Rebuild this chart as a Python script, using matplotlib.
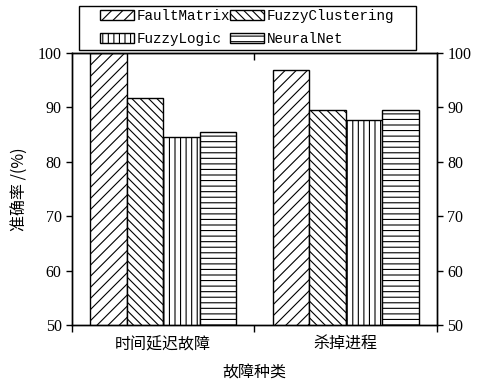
import numpy as np
import matplotlib.pyplot as plt
from matplotlib.patches import Rectangle

plt.rcParams['hatch.linewidth'] = 0.8

categories = ['时间延迟故障', '杀掉进程']
methods = ['FaultMatrix', 'FuzzyClustering', 'FuzzyLogic', 'NeuralNet']
accuracy = {
    'FaultMatrix': [100.0, 96.8],
    'FuzzyClustering': [91.7, 89.5],
    'FuzzyLogic': [84.6, 87.6],
    'NeuralNet': [85.4, 89.5],
}
hatches = ['///', '\\\\\\\\', '|||', '---']
yticks = [50, 60, 70, 80, 90, 100]

cjk = ['Noto Sans CJK SC', 'DejaVu Sans']
serif = ['Liberation Serif', 'DejaVu Serif']

W, H = 480, 387
fig = plt.figure(figsize=(W / 100, H / 100), dpi=100)
ax = fig.add_axes([0.15, 0.16, 0.76, 0.703])

x = np.arange(1, len(categories) + 1)
width = 0.2
bars = []
for i, (name, h) in enumerate(zip(methods, hatches)):
    b = ax.bar(x + (i - 1.5) * width, accuracy[name], width, bottom=0,
               facecolor='white', edgecolor='black', linewidth=1.0,
               hatch=h, label=name)
    bars.append(b)

ax.set_xlim(0.5, 2.5)
ax.set_ylim(50, 100)
ax.set_yticks(yticks)
ax.set_yticklabels([str(v) for v in yticks], family=serif, fontsize=11.5)

# group separators on the bottom, category names between them
ax.set_xticks([0.5, 1.5, 2.5])
ax.set_xticklabels([])
ax.set_xticks(x, minor=True)
ax.set_xticklabels(categories, minor=True, family=cjk, fontsize=11.5)
ax.tick_params(axis='x', which='minor', length=0, pad=8)
ax.tick_params(axis='x', which='major', direction='out', length=5, width=1)
ax.tick_params(axis='y', direction='out', length=4, width=1)

top = ax.secondary_xaxis('top')
top.set_xticks([1.5])
top.set_xticklabels([])
top.tick_params(direction='in', length=5, width=1)

right = ax.twinx()
right.set_ylim(50, 100)
right.set_yticks(yticks)
right.set_yticklabels([str(v) for v in yticks], family=serif, fontsize=11.5)
right.tick_params(axis='y', direction='out', length=4, width=1)

for a in (ax, right):
    for s in a.spines.values():
        s.set_linewidth(1.0)

ax.set_xlabel('故障种类', family=cjk, fontsize=11.5, labelpad=8)
ax.set_ylabel('准确率 /(%)', family=cjk, fontsize=11.5, labelpad=6)

# legend filled row by row, inside a hand-drawn box above the axes
order = [0, 2, 1, 3]
leg = fig.legend([bars[k] for k in order], [methods[k] for k in order],
                 loc='upper left', bbox_to_anchor=(93 / W, 1 - 2 / H),
                 bbox_transform=fig.transFigure,
                 ncol=2, frameon=False,
                 prop={'family': 'Liberation Mono', 'size': 10.3},
                 handlelength=2.4, handleheight=0.75, handletextpad=0.15,
                 columnspacing=0.0, borderpad=0.0, labelspacing=0.6)
fig.add_artist(Rectangle((79 / W, 1 - 50 / H), 337 / W, 44 / H,
                         transform=fig.transFigure, fill=False,
                         edgecolor='black', linewidth=1.0))

fig.savefig('out.png', dpi=100)
